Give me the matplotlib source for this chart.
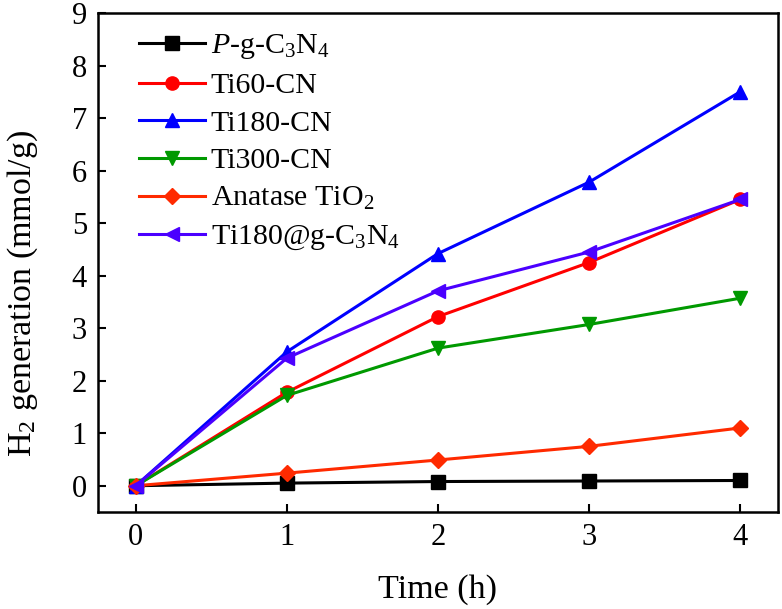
import numpy as np
import matplotlib
matplotlib.use("Agg")
import matplotlib.pyplot as plt

plt.rcParams["font.family"] = ["Liberation Serif", "DejaVu Serif"]
plt.rcParams["mathtext.fontset"] = "custom"
plt.rcParams["mathtext.rm"] = "Liberation Serif"
plt.rcParams["mathtext.it"] = "Liberation Serif:italic"

time_h = [0, 1, 2, 3, 4]
p_gcn = [0, 0.05, 0.08, 0.09, 0.10]
ti60 = [0, 1.78, 3.22, 4.25, 5.45]
ti180 = [0, 2.55, 4.42, 5.78, 7.50]
ti300 = [0, 1.72, 2.62, 3.07, 3.57]
anatase = [0, 0.24, 0.49, 0.75, 1.10]
ti180_at = [0, 2.43, 3.71, 4.45, 5.45]

series = [
    (p_gcn, r"$\it{P}$-g-C$_3$N$_4$", "black", "s"),
    (ti60, "Ti60-CN", "#FF0000", "o"),
    (ti180, "Ti180-CN", "#0000FF", "^"),
    (ti300, "Ti300-CN", "#009900", "v"),
    (anatase, r"Anatase TiO$_2$", "#FF2A00", "D"),
    (ti180_at, r"Ti180@g-C$_3$N$_4$", "#4B00FF", "<"),
]

fig = plt.figure(figsize=(7.82, 6.09), dpi=100)
ax = fig.add_axes([98 / 782, 1 - 512 / 609, 680 / 782, 499 / 609])

for y, lab, col, mk in series:
    ms = 8 if mk == "D" else 9.5
    ax.plot(time_h, y, color=col, marker=mk, markersize=ms, linewidth=2.2,
            label=lab)

ax.set_xlim(-0.25, 4.25)
ax.set_ylim(-0.5, 9)
ax.set_xticks(time_h)
ax.set_yticks(range(0, 10))
ax.tick_params(direction="in", length=6, width=1.5, labelsize=22, pad=8)
for s in ax.spines.values():
    s.set_linewidth(1.8)

ax.set_xlabel("Time (h)", fontsize=24.5, labelpad=16)
ax.set_ylabel("H$_2$ generation (mmol/g)", fontsize=24.5)
ax.yaxis.set_label_coords(-0.085, 0.437)

ax.legend(loc="upper left", frameon=False, fontsize=21.5, handlelength=2.2,
          handletextpad=0.2, labelspacing=0.36, borderaxespad=0.0,
          bbox_to_anchor=(0.043, 0.985))

fig.savefig("out.png", dpi=100)
